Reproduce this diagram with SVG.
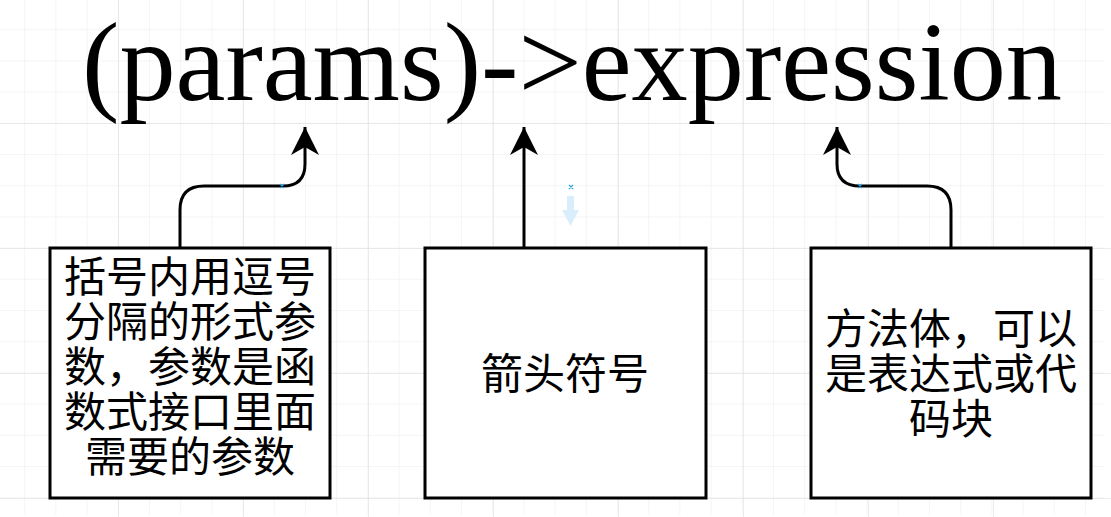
<svg xmlns="http://www.w3.org/2000/svg" width="1111" height="517" viewBox="0 0 1111 517">
<defs>
<pattern id="minor" x="0" y="0" width="31.2" height="31.2" patternUnits="userSpaceOnUse"><path d="M0 0H31.2M0 0V31.2" stroke="#ececec" stroke-width="1" fill="none"/></pattern>
<pattern id="major" x="-7" y="-2" width="125" height="125" patternUnits="userSpaceOnUse"><path d="M0 0H125M0 0V125" stroke="#dadada" stroke-width="1" fill="none"/></pattern>
<marker id="arr" viewBox="0 0 30 30" refX="28" refY="15" markerWidth="30" markerHeight="30" markerUnits="userSpaceOnUse" orient="auto"><path d="M28 15L0 1L8 15L0 29Z" fill="#000"/></marker>
</defs>
<style>
.box{fill:#fff;stroke:#000;stroke-width:3}
.lbl{font-family:"Noto Sans CJK SC",sans-serif;font-size:42px;text-anchor:middle;fill:#000}
.c{fill:none;stroke:#000;stroke-width:3}
.x{stroke:#29a9e0;stroke-width:1.2}
</style>
<rect width="1111" height="517" fill="#fff"/>
<rect width="1111" height="517" fill="url(#minor)" transform="translate(-7,-2)"/>
<rect width="1111" height="517" fill="url(#major)"/>
<text x="572" y="100" font-family="Liberation Serif,serif" font-size="112" text-anchor="middle" fill="#000" textLength="980" lengthAdjust="spacingAndGlyphs">(params)-&gt;expression</text>
<g id="connectors">
<path class="c" d="M180 248V210Q180 186 204 186H283Q305 186 305 164V127" marker-end="url(#arr)"/>
<path class="c" d="M524 248V127" marker-end="url(#arr)"/>
<path class="c" d="M951 248V210Q951 186 927 186H860Q837 186 837 164V127" marker-end="url(#arr)"/>
</g>
<g id="markers">
<path class="x" d="M280 184l4 4M284 184l-4 4M569 185l4 4M573 185l-4 4M858 184l4 4M862 184l-4 4"/>
<path d="M567 196h7v14h5l-8.5 16l-8.5-16h5z" fill="#d9eefb"/>
</g>
<g id="n1"><rect class="box" x="50" y="248" width="280" height="250"/>
<text class="lbl"><tspan x="190" y="292">括号内用逗号</tspan><tspan x="190" y="337">分隔的形式参</tspan><tspan x="190" y="382">数，参数是函</tspan><tspan x="190" y="427">数式接口里面</tspan><tspan x="190" y="472">需要的参数</tspan></text></g>
<g id="n2"><rect class="box" x="425" y="248" width="281" height="250"/>
<text class="lbl" x="565" y="389">箭头符号</text></g>
<g id="n3"><rect class="box" x="811" y="248" width="280" height="250"/>
<text class="lbl"><tspan x="951" y="344">方法体，可以</tspan><tspan x="951" y="389">是表达式或代</tspan><tspan x="951" y="434">码块</tspan></text></g>
</svg>
